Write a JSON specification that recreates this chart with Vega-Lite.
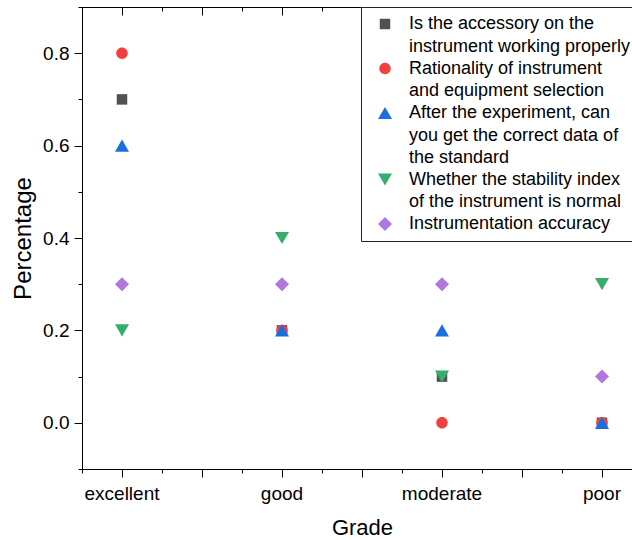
{
  "$schema": "https://vega.github.io/schema/vega-lite/v6.json",
  "width": 550,
  "height": 462,
  "autosize": {"type": "none"},
  "padding": {"left": 82, "top": 7, "right": 0, "bottom": 71},
  "background": "white",
  "config": {
    "view": {"stroke": null},
    "font": "Liberation Sans",
    "style": {"guide-label": {"lineHeight": 22.5}},
    "axis": {
      "grid": false,
      "domainColor": "black",
      "tickColor": "black",
      "labelColor": "black",
      "titleColor": "black",
      "labelFont": "Liberation Sans",
      "titleFont": "Liberation Sans",
      "titleFontWeight": "normal",
      "tickWidth": 1,
      "domainWidth": 1
    }
  },
  "data": {
    "values": [
      {"grade": "excellent", "series": "Is the accessory on the instrument working properly", "value": 0.7},
      {"grade": "good", "series": "Is the accessory on the instrument working properly", "value": 0.2},
      {"grade": "moderate", "series": "Is the accessory on the instrument working properly", "value": 0.1},
      {"grade": "poor", "series": "Is the accessory on the instrument working properly", "value": 0.0},
      {"grade": "excellent", "series": "Rationality of instrument and equipment selection", "value": 0.8},
      {"grade": "good", "series": "Rationality of instrument and equipment selection", "value": 0.2},
      {"grade": "moderate", "series": "Rationality of instrument and equipment selection", "value": 0.0},
      {"grade": "poor", "series": "Rationality of instrument and equipment selection", "value": 0.0},
      {"grade": "excellent", "series": "After the experiment, can you get the correct data of the standard", "value": 0.6},
      {"grade": "good", "series": "After the experiment, can you get the correct data of the standard", "value": 0.2},
      {"grade": "moderate", "series": "After the experiment, can you get the correct data of the standard", "value": 0.2},
      {"grade": "poor", "series": "After the experiment, can you get the correct data of the standard", "value": 0.0},
      {"grade": "excellent", "series": "Whether the stability index of the instrument is normal", "value": 0.2},
      {"grade": "good", "series": "Whether the stability index of the instrument is normal", "value": 0.4},
      {"grade": "moderate", "series": "Whether the stability index of the instrument is normal", "value": 0.1},
      {"grade": "poor", "series": "Whether the stability index of the instrument is normal", "value": 0.3},
      {"grade": "excellent", "series": "Instrumentation accuracy", "value": 0.3},
      {"grade": "good", "series": "Instrumentation accuracy", "value": 0.3},
      {"grade": "moderate", "series": "Instrumentation accuracy", "value": 0.3},
      {"grade": "poor", "series": "Instrumentation accuracy", "value": 0.1}
    ]
  },
  "resolve": {"axis": {"x": "independent", "y": "independent"}},
  "layer": [
    {
      "data": {"values": [{}]},
      "mark": {"type": "rule", "color": "black", "strokeWidth": 1, "yOffset": 0.5},
      "encoding": {"y": {"datum": 0.9, "type": "quantitative", "axis": null}}
    },
    {
      "data": {"values": [{}]},
      "mark": {"type": "rule", "color": "black", "strokeWidth": 1, "yOffset": 0.5},
      "encoding": {"y": {"datum": -0.1, "type": "quantitative", "axis": null}}
    },
    {
      "mark": {"type": "point", "opacity": 0},
      "encoding": {"x": {"field": "grade", "type": "nominal", "axis": {"orient": "bottom", "bandPosition": 1, "domain": false, "labels": false, "tickSize": 8, "title": null}}}
    },
    {
      "mark": {"type": "point", "opacity": 0},
      "encoding": {"x": {"field": "grade", "type": "nominal", "axis": {"orient": "bottom", "bandPosition": 0.25, "domain": false, "labels": false, "tickSize": 4, "title": null}}}
    },
    {
      "mark": {"type": "point", "opacity": 0},
      "encoding": {"x": {"field": "grade", "type": "nominal", "axis": {"orient": "bottom", "bandPosition": 0.75, "domain": false, "labels": false, "tickSize": 4, "title": null}}}
    },
    {
      "mark": {"type": "point", "opacity": 0},
      "encoding": {"x": {"field": "grade", "type": "nominal", "axis": {"orient": "top", "bandPosition": 0.5, "domain": false, "labels": false, "tickSize": -8, "title": null}}}
    },
    {
      "mark": {"type": "point", "opacity": 0},
      "encoding": {"x": {"field": "grade", "type": "nominal", "axis": {"orient": "top", "bandPosition": 1, "domain": false, "labels": false, "tickSize": -8, "title": null}}}
    },
    {
      "mark": {"type": "point", "opacity": 0},
      "encoding": {"x": {"field": "grade", "type": "nominal", "axis": {"orient": "top", "bandPosition": 0.25, "domain": false, "labels": false, "tickSize": -4, "title": null}}}
    },
    {
      "mark": {"type": "point", "opacity": 0},
      "encoding": {"x": {"field": "grade", "type": "nominal", "axis": {"orient": "top", "bandPosition": 0.75, "domain": false, "labels": false, "tickSize": -4, "title": null}}}
    },
    {
      "mark": {"type": "point", "opacity": 0},
      "encoding": {"y": {"field": "value", "type": "quantitative", "axis": {"orient": "left", "values": [-0.1, 0.1, 0.3, 0.5, 0.7, 0.9], "domain": false, "labels": false, "tickSize": 4, "title": null}}}
    },
    {
      "mark": {"type": "point", "filled": true, "opacity": 1, "strokeWidth": 0, "size": 196},
      "encoding": {
        "x": {
          "field": "grade",
          "type": "nominal",
          "scale": {"type": "band", "domain": ["excellent", "good", "moderate", "poor"], "range": [-40, 600], "paddingInner": 0, "paddingOuter": 0},
          "axis": {"orient": "bottom", "bandPosition": 0.5, "domain": false, "tickSize": 8, "labelFontSize": 19, "labelPadding": 7, "labelAngle": 0, "title": "Grade", "titleFontSize": 22, "titlePadding": 14, "titleX": 280}
        },
        "y": {
          "field": "value",
          "type": "quantitative",
          "scale": {"domain": [-0.1, 0.9], "nice": false, "zero": false},
          "axis": {"orient": "left", "values": [0, 0.2, 0.4, 0.6, 0.8], "format": ".1f", "tickSize": 8, "labelFontSize": 19, "labelPadding": 5, "title": "Percentage", "titleFontSize": 24, "titlePadding": 7}
        },
        "color": {
          "field": "series",
          "type": "nominal",
          "scale": {
            "domain": ["Is the accessory on the instrument working properly", "Rationality of instrument and equipment selection", "After the experiment, can you get the correct data of the standard", "Whether the stability index of the instrument is normal", "Instrumentation accuracy"],
            "range": ["#515151", "#F14040", "#1A6FDF", "#37AD6B", "#B177DE"]
          },
          "legend": {
            "title": null,
            "orient": "none",
            "legendX": 279,
            "legendY": 0,
            "strokeColor": "#222222",
            "fillColor": "white",
            "padding": 8,
            "labelFontSize": 18,
            "labelFont": "Liberation Sans",
            "labelColor": "black",
            "labelLimit": 0,
            "symbolOffset": 7,
            "labelOffset": 15,
            "rowPadding": 3.5,
            "symbolSize": 196,
            "symbolStrokeWidth": 0,
            "labelExpr": "datum.label == 'Is the accessory on the instrument working properly' ? ['Is the accessory on the', 'instrument working properly'] : datum.label == 'Rationality of instrument and equipment selection' ? ['Rationality of instrument', 'and equipment selection'] : datum.label == 'After the experiment, can you get the correct data of the standard' ? ['After the experiment, can', 'you get the correct data of', 'the standard'] : datum.label == 'Whether the stability index of the instrument is normal' ? ['Whether the stability index', 'of the instrument is normal'] : datum.label"
          }
        },
        "shape": {
          "field": "series",
          "type": "nominal",
          "scale": {
            "domain": ["Is the accessory on the instrument working properly", "Rationality of instrument and equipment selection", "After the experiment, can you get the correct data of the standard", "Whether the stability index of the instrument is normal", "Instrumentation accuracy"],
            "range": [
              "M-0.75,-0.75L0.75,-0.75L0.75,0.75L-0.75,0.75Z",
              "M-0.82,0A0.82,0.82,0,1,0,0.82,0A0.82,0.82,0,1,0,-0.82,0Z",
              "M0,-0.87L1,0.87L-1,0.87Z",
              "M0,0.87L1,-0.87L-1,-0.87Z",
              "M-1,0L0,-1L1,0L0,1Z"
            ]
          }
        }
      }
    }
  ]
}
